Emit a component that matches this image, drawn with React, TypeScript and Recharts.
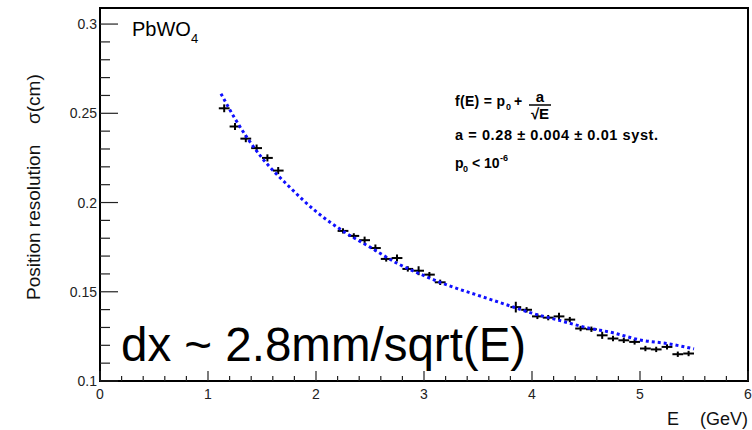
import React from 'react';
import { ScatterChart, Scatter, XAxis, YAxis, ErrorBar, ReferenceArea } from 'recharts';

// measured points (E in GeV, sigma in cm)
const energy = [
    1.15, 1.25, 1.35, 1.45, 1.55, 1.65,
    2.25, 2.35, 2.45, 2.55, 2.65, 2.75, 2.85, 2.95, 3.05, 3.15,
    3.85, 3.95, 4.05, 4.15, 4.25, 4.35, 4.45, 4.55, 4.65, 4.75, 4.85, 4.95, 5.05, 5.15, 5.25, 5.35, 5.45,
];
const sigma = [
    0.2528, 0.2426, 0.2358, 0.2305, 0.2250, 0.2179,
    0.1841, 0.1813, 0.1789, 0.1745, 0.1684, 0.1689, 0.1628, 0.1618, 0.1596, 0.1553,
    0.1414, 0.1399, 0.1362, 0.1355, 0.1362, 0.1344, 0.1294, 0.1290, 0.1256, 0.1238, 0.1228, 0.1219, 0.1182, 0.1177, 0.1191, 0.1150, 0.1154,
];
const sigmaErr = [
    0.0022, 0.002, 0.002, 0.002, 0.002, 0.002,
    0.0015, 0.0015, 0.002, 0.002, 0.0015, 0.002, 0.0015, 0.0025, 0.0015, 0.0015,
    0.003, 0.0015, 0.0015, 0.0015, 0.002, 0.0015, 0.0015, 0.0015, 0.002, 0.0015, 0.0015, 0.0015, 0.0015, 0.0015, 0.0015, 0.0015, 0.0015,
];
const binHalfWidth = 0.05;

// fitted curve
const fitEnergy = [1.12, 1.25, 1.5, 1.75, 2.0, 2.25, 2.5, 2.75, 3.0, 3.25, 3.5, 3.75, 4.0, 4.25, 4.5, 4.75, 5.0, 5.25, 5.5];
const fitSigma = [0.261, 0.247, 0.225, 0.209, 0.195, 0.184, 0.175, 0.166, 0.159, 0.153, 0.148, 0.143, 0.138, 0.134, 0.130, 0.127, 0.123, 0.121, 0.118];

const xMajor = [0, 1, 2, 3, 4, 5, 6];
const yMajor = [0.1, 0.15, 0.2, 0.25, 0.3];

const xTicks: number[] = [];
for (let i = 0; i <= 30; i++) xTicks.push(i / 5);
const yTicks: number[] = [];
for (let i = 10; i <= 30; i++) yTicks.push(i / 100);

const points = energy.map((E, i) => ({ E, s: sigma[i], ex: binHalfWidth, ey: sigmaErr[i] }));
const fitLine = fitEnergy.map((E, i) => ({ E, s: fitSigma[i] }));

const font = '"Liberation Sans", Arial, Helvetica, sans-serif';
const isMajor = (v: number, list: number[]) => list.some((m) => Math.abs(m - v) < 1e-6);

const XTick = (props: any) => {
    const { x, y, payload } = props;
    const major = isMajor(payload.value, xMajor);
    return (
        <g>
            <line x1={x} x2={x} y1={y} y2={y - (major ? 10 : 5)} stroke="#222" strokeWidth={1.2} />
            {major && (
                <text x={x} y={y + 18} textAnchor="middle" fontSize={14} fontFamily={font} fill="#222">
                    {payload.value}
                </text>
            )}
        </g>
    );
};

const YTick = (props: any) => {
    const { x, y, payload } = props;
    const major = isMajor(payload.value, yMajor);
    return (
        <g>
            <line x1={x} x2={x + (major ? 18 : 10)} y1={y} y2={y} stroke="#222" strokeWidth={1.2} />
            {major && (
                <text x={x - 3} y={y + 5} textAnchor="end" fontSize={14} fontFamily={font} fill="#222">
                    {payload.value}
                </text>
            )}
        </g>
    );
};

const noMarker = () => <g />;

export default function App() {
    return (
        <div style={{ position: 'absolute', left: 0, top: 0, width: 752, height: 430, background: '#fff' }}>
            <ScatterChart width={752} height={430} margin={{ top: 8, right: 4, bottom: 0, left: 0 }}>
                <ReferenceArea x1={0} x2={6} y1={0.1} y2={0.309} fill="none" stroke="#000" strokeWidth={2} />
                <XAxis
                    type="number"
                    dataKey="E"
                    domain={[0, 6]}
                    ticks={xTicks}
                    interval={0}
                    height={49}
                    tickSize={0}
                    tickMargin={0}
                    tick={<XTick />}
                    axisLine={{ stroke: '#000', strokeWidth: 2 }}
                />
                <YAxis
                    type="number"
                    dataKey="s"
                    domain={[0.1, 0.309]}
                    ticks={yTicks}
                    interval={0}
                    width={100}
                    tickSize={0}
                    tickMargin={0}
                    tick={<YTick />}
                    axisLine={{ stroke: '#000', strokeWidth: 2 }}
                />
                <Scatter
                    data={fitLine}
                    line={{ stroke: '#1010ff', strokeWidth: 3, strokeDasharray: '3 3' }}
                    lineJointType="monotoneX"
                    shape={noMarker}
                    isAnimationActive={false}
                />
                <Scatter data={points} shape={noMarker} isAnimationActive={false}>
                    <ErrorBar dataKey="ex" direction="x" width={0} stroke="#000" strokeWidth={2} />
                    <ErrorBar dataKey="ey" direction="y" width={0} stroke="#000" strokeWidth={2} />
                </Scatter>

                <text x={132} y={36} fontSize={20} fontFamily={font} fill="#000">
                    PbWO
                </text>
                <text x={191} y={43} fontSize={13} fontFamily={font} fill="#000">
                    4
                </text>

                <g fontFamily={font} fontWeight="bold" fill="#000">
                    <text x={455} y={106} fontSize={14} textLength={50}>f(E) = p</text>
                    <text x={506} y={110} fontSize={9}>0</text>
                    <text x={514} y={106} fontSize={14}>+</text>
                    <text x={540} y={102} fontSize={15} textAnchor="middle">a</text>
                    <line x1={529} x2={551} y1={105} y2={105} stroke="#000" strokeWidth={1.5} />
                    <text x={540} y={119} fontSize={15} textAnchor="middle">√E</text>
                    <text x={455} y={140} fontSize={14.5} textLength={203}>a = 0.28 ± 0.004 ± 0.01 syst.</text>
                    <text x={455} y={168} fontSize={14}>p</text>
                    <text x={463} y={172} fontSize={9}>0</text>
                    <text x={472} y={168} fontSize={14}>&lt; 10</text>
                    <text x={500} y={161} fontSize={9}>-6</text>
                </g>

                <text x={121} y={361} fontSize={47.5} fontFamily={font} fill="#000">
                    dx ~ 2.8mm/sqrt(E)
                </text>

                <text x={40} y={300} fontSize={19} fontFamily={font} fill="#111" transform="rotate(-90 40 300)">
                    Position resolution
                </text>
                <text x={40} y={124} fontSize={19} fontFamily={font} fill="#111" transform="rotate(-90 40 124)">
                    σ(cm)
                </text>

                <text x={667} y={425} fontSize={18} fontFamily={font} fill="#111">
                    E
                </text>
                <text x={748} y={425} fontSize={18} fontFamily={font} fill="#111" textAnchor="end">
                    (GeV)
                </text>
            </ScatterChart>
        </div>
    );
}
